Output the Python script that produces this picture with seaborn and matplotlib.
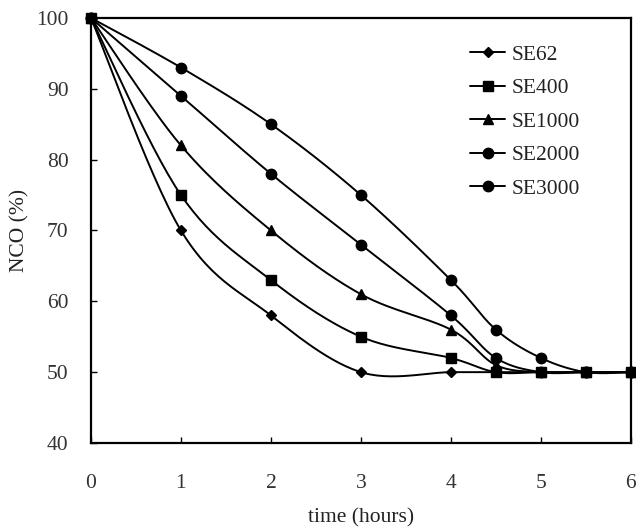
import numpy as np
import pandas as pd
import matplotlib
matplotlib.use("Agg")
import matplotlib.pyplot as plt
import seaborn as sns
from matplotlib.lines import Line2D

# ---- data ----
time_hours = [0, 1, 2, 3, 4, 4.5, 5, 5.5, 6]
series_names = ["SE62", "SE400", "SE1000", "SE2000", "SE3000"]
se62 = [100, 70, 58, 50, 50, 50, 50, 50, 50]
se400 = [100, 75, 63, 55, 52, 50, 50, 50, 50]
se1000 = [100, 82, 70, 61, 56, 51, 50, 50, 50]
se2000 = [100, 89, 78, 68, 58, 52, 50, 50, 50]
se3000 = [100, 93, 85, 75, 63, 56, 52, 50, 50]
x_ticks = [0, 1, 2, 3, 4, 5, 6]
y_ticks = [40, 50, 60, 70, 80, 90, 100]

values = {"SE62": se62, "SE400": se400, "SE1000": se1000,
          "SE2000": se2000, "SE3000": se3000}
markers = {"SE62": "D", "SE400": "s", "SE1000": "^", "SE2000": "o", "SE3000": "o"}
msizes = {"SE62": 5, "SE400": 7, "SE1000": 7.5, "SE2000": 7.5, "SE3000": 7.5}

df = pd.DataFrame([(n, t, v) for n in series_names
                   for t, v in zip(time_hours, values[n])],
                  columns=["series", "time", "NCO"])

sns.set_theme(style="ticks")
plt.rcParams["font.family"] = ["Liberation Serif", "DejaVu Serif"]
FS = 15.5

fig = plt.figure(figsize=(6.36, 5.28), dpi=100)
ax = fig.add_axes([0.143, 0.161, 0.849, 0.805])


def smooth(xs, ys, n=30):
    """Excel-style smoothed line (cubic Bezier through points)."""
    P = np.column_stack([xs, ys]).astype(float)
    pts = []
    for i in range(len(P) - 1):
        p0 = P[i - 1] if i > 0 else P[i]
        p1 = P[i]
        p2 = P[i + 1]
        p3 = P[i + 2] if i + 2 < len(P) else P[i + 1]
        c1 = p1 + (p2 - p0) / 6.0
        c2 = p2 - (p3 - p1) / 6.0
        t = np.linspace(0, 1, n)[:, None]
        seg = ((1 - t) ** 3) * p1 + 3 * ((1 - t) ** 2) * t * c1 \
            + 3 * (1 - t) * t ** 2 * c2 + t ** 3 * p2
        pts.append(seg if i == 0 else seg[1:])
    pts = np.vstack(pts)
    return pts[:, 0], pts[:, 1]


for n in series_names:
    sx, sy = smooth(time_hours, values[n])
    sns.lineplot(x=sx, y=sy, ax=ax, color="black", lw=1.4, sort=False,
                 estimator=None, zorder=2)

order = ["SE62", "SE1000", "SE2000", "SE3000", "SE400"]
for i, n in enumerate(order):
    sub = df[df.series == n]
    ax.plot(sub["time"], sub["NCO"], ls="none", marker=markers[n],
            ms=msizes[n], color="black", zorder=3 + i, clip_on=False)

ax.set_xlim(0, 6)
ax.set_ylim(40, 100)
ax.set_xticks(x_ticks)
ax.set_yticks(y_ticks)
ax.tick_params(direction="in", length=4, width=1, labelsize=FS,
               colors="black", labelcolor="#333333")
ax.tick_params(axis="y", pad=16)
ax.tick_params(axis="x", pad=22)
for s in ax.spines.values():
    s.set_visible(True)
    s.set_color("black")
    s.set_linewidth(1.6)

ax.set_xlabel("time (hours)", fontsize=FS, color="#222222", labelpad=11)
ax.set_ylabel("NCO (%)", fontsize=FS, color="#222222", labelpad=5)

handles = [Line2D([0], [0], color="black", lw=1.4, marker=markers[n],
                  ms=msizes[n]) for n in series_names]
leg = ax.legend(handles, series_names, loc="upper left",
                bbox_to_anchor=(0.675, 0.972), frameon=False, fontsize=FS,
                handlelength=1.6, handletextpad=0.3, labelspacing=0.62,
                borderpad=0.2)
for t in leg.get_texts():
    t.set_color("#222222")

fig.savefig("out.png", dpi=100)
